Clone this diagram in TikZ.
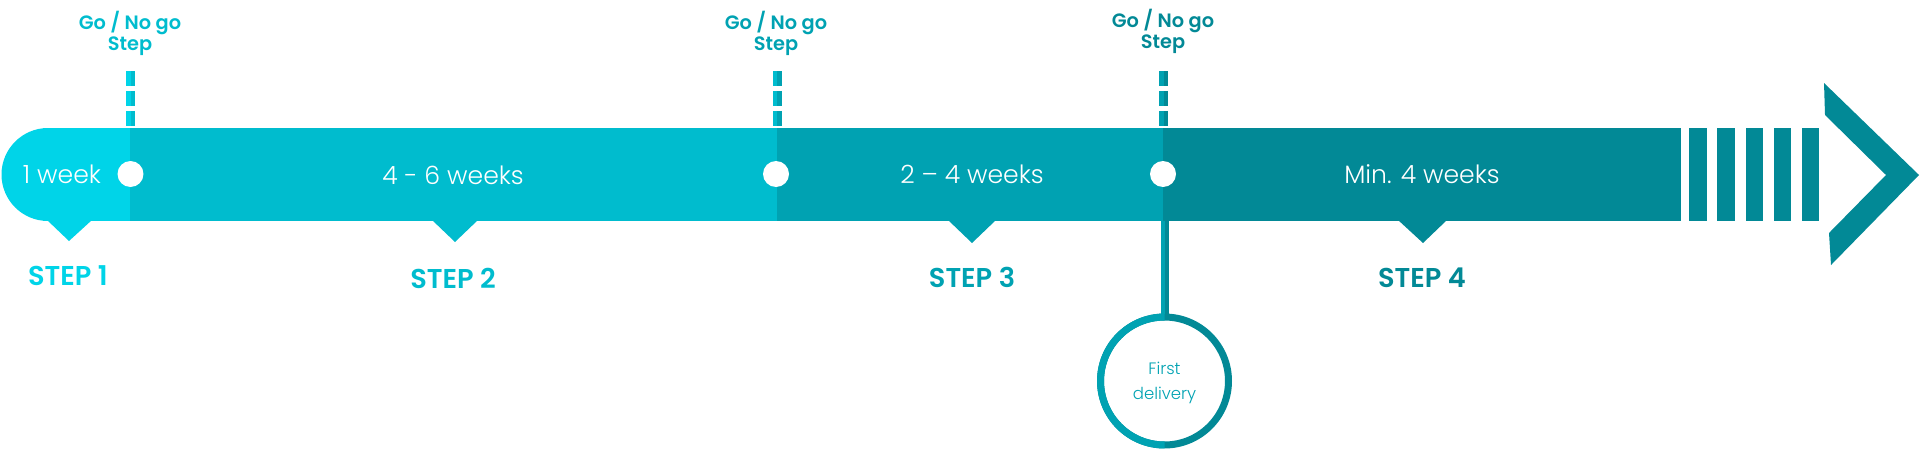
\documentclass[tikz,border=0pt]{standalone}
\usepackage{fontspec}
\setmainfont{Poppins}
\newfontfamily\lightf{Poppins Light}
\newfontfamily\semif{Poppins SemiBold}
\definecolor{cA}{RGB}{0,212,232}
\definecolor{cB}{RGB}{0,188,206}
\definecolor{cC}{RGB}{0,162,178}
\definecolor{cD}{RGB}{2,137,150}
\begin{document}
\begin{tikzpicture}[x=0.02cm,y=-0.02cm,
  dur/.style={text=white, font=\lightf\fontsize{14.3}{16}\selectfont, inner sep=0pt},
  steplbl/.style={font=\semif\fontsize{15.5}{18}\selectfont, inner sep=0pt},
  gng/.style={font=\semif\fontsize{11}{12}\selectfont, align=center, inner sep=0pt},
  dotnode/.style={circle, fill=white, minimum size=0.52cm, inner sep=0pt},
  dashhalf/.style={line width=0.09cm, dash pattern=on 0.3cm off 0.1cm}]
\useasboundingbox (0,0) rectangle (1920,450);
% band segments
\fill[cA] (48,174.5) circle[radius=46.5];
\fill[cA] (48,128) rectangle (130,221);
\fill[cB] (130,128) rectangle (777,221);
\fill[cC] (777,128) rectangle (1163,221);
\fill[cD] (1163,128) rectangle (1681,221);
\foreach \a/\b in {1689/1707,1717/1735,1746/1763,1774/1791,1802/1819}
  \fill[cD] (\a,128) rectangle (\b,221);
% chevron
\fill[cD] (1824,83) -- (1919,175) -- (1831,265) -- (1829,233) -- (1886,175) -- (1825,115) -- cycle;
% pointers
\fill[cA] (47,220) -- (92,220) -- (69,241) -- cycle;
\fill[cB] (432,220) -- (478,220) -- (455,242) -- cycle;
\fill[cC] (948,220) -- (996,220) -- (972,243) -- cycle;
\fill[cD] (1398,220) -- (1447,220) -- (1423,243) -- cycle;
% durations
\node[dur] (t1) at (62,174) {1 week};
\node[dur] (t2) at (453,175) {4 - 6 weeks};
\node[dur] (t3) at (972,174) {2 – 4 weeks};
\node[dur] (t4) at (1422,174) {Min. 4 weeks};
% step labels
\node[steplbl, text=cA] (s1) at (68,276) {STEP 1};
\node[steplbl, text=cB] (s2) at (453,278) {STEP 2};
\node[steplbl, text=cC] (s3) at (972,277) {STEP 3};
\node[steplbl, text=cD] (s4) at (1422,278) {STEP 4};
% go / no go labels
\node[gng, text=cB] (g1) at (130,33) {Go / No go\\Step};
\node[gng, text=cC] (g2) at (776,33) {Go / No go\\Step};
\node[gng, text=cD] (g3) at (1163,31) {Go / No go\\Step};
% dashes
\coordinate (k1) at (130.5,71);
\coordinate (k2) at (777,71);
\coordinate (k3) at (1163.5,71);
\foreach \n/\L/\R in {1/cA/cB,2/cB/cC,3/cC/cD}{
  \draw[\L, dashhalf] ([xshift=-0.045cm]k\n) -- ([xshift=-0.045cm]k\n |- 0,128);
  \draw[\R, dashhalf] ([xshift=0.045cm]k\n) -- ([xshift=0.045cm]k\n |- 0,128);
}
% dots
\node[dotnode] (d1) at (130.5,174) {};
\node[dotnode] (d2) at (776,174) {};
\node[dotnode] (d3) at (1163,174) {};
% first delivery
\node[circle, minimum size=2.56cm, inner sep=0pt, draw=cD, line width=0.14cm] (fd) at (1164.5,381) {};
\begin{scope}
  \clip (0,0) rectangle (1164.5,450);
  \node[circle, minimum size=2.56cm, inner sep=0pt, draw=cC, line width=0.14cm] at (1164.5,381) {};
\end{scope}
\coordinate (vtop) at (1164.5,221);
\draw[cC, line width=0.08cm] ([xshift=-0.04cm]vtop) -- ([xshift=-0.04cm]vtop |- fd.north);
\draw[cD, line width=0.08cm] ([xshift=0.04cm]vtop) -- ([xshift=0.04cm]vtop |- fd.north);
\node[text=cC, font=\lightf\fontsize{9.4}{13.8}\selectfont, align=center, inner sep=0pt] (fdt) at ([yshift=-0.04cm]fd.center) {First\\delivery};
\end{tikzpicture}
\end{document}
